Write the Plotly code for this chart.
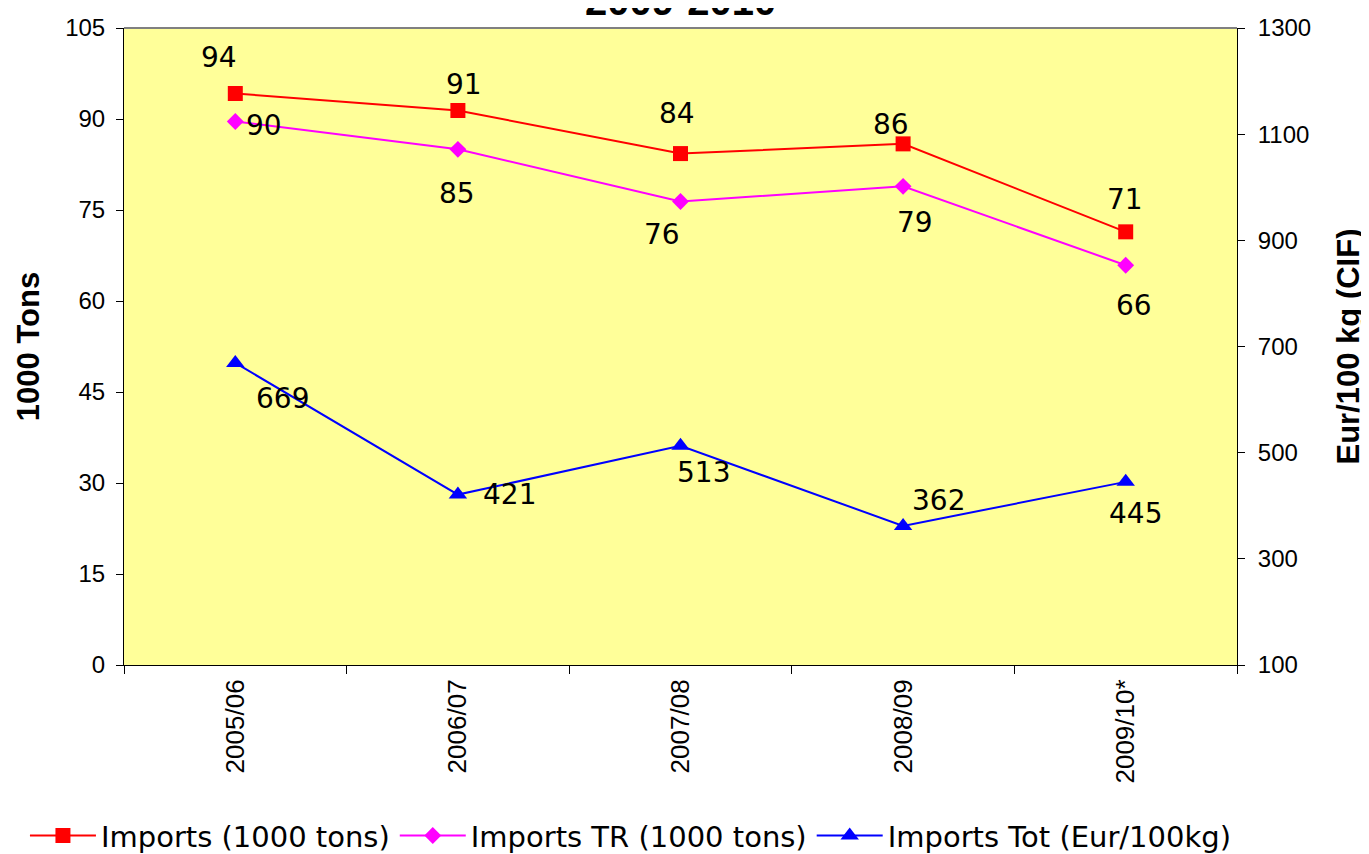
import plotly.graph_objects as go

seasons = ["2005/06", "2006/07", "2007/08", "2008/09", "2009/10*"]
imports_tons = [94.2, 91.4, 84.3, 85.9, 71.4]
imports_tr_tons = [89.6, 85.0, 76.4, 78.9, 65.9]
imports_price = [669, 421, 513, 362, 445]

left_ticks = [0, 15, 30, 45, 60, 75, 90, 105]
right_ticks = [100, 300, 500, 700, 900, 1100, 1300]

# label offsets in pixels (dx right, dy up)
off_red = [(-16, 36), (6, 26), (-4, 40), (-12, 19), (-1, 32)]
off_mag = [(29, -4), (-1, -44), (-19, -33), (12, -36), (8, -40)]
off_blue = [(47, -36), (52, 0), (23, -27), (35, 25), (10, -32)]

LABEL_FONT = dict(family="DejaVu Sans", size=28, color="black")
YTICK_FONT = dict(family="Liberation Sans", size=24, color="black")
XTICK_FONT = dict(family="Liberation Sans", size=26, color="black")
YTITLE_FONT = dict(family="Liberation Sans", size=31, color="black")

fig = go.Figure()
fig.add_trace(go.Scatter(
    x=seasons, y=imports_tons, name="Imports (1000 tons)", mode="lines+markers",
    line=dict(color="#FF0000", width=2),
    marker=dict(symbol="square", size=15, color="#FF0000"),
))
fig.add_trace(go.Scatter(
    x=seasons, y=imports_tr_tons, name="Imports TR (1000 tons)", mode="lines+markers",
    line=dict(color="#FF00FF", width=2),
    marker=dict(symbol="diamond", size=13, color="#FF00FF"),
))
fig.add_trace(go.Scatter(
    x=seasons, y=imports_price, name="Imports Tot (Eur/100kg)", mode="lines+markers",
    line=dict(color="#0000FF", width=2),
    marker=dict(symbol="triangle-up", size=16, color="#0000FF"),
    yaxis="y2",
))

annotations = []
for vals, offs, yref in [(imports_tons, off_red, "y"), (imports_tr_tons, off_mag, "y"),
                         (imports_price, off_blue, "y2")]:
    for s, v, (dx, dy) in zip(seasons, vals, offs):
        annotations.append(dict(
            x=s, y=v, xref="x", yref=yref, text=str(int(round(v))),
            showarrow=False, xshift=dx, yshift=dy, font=LABEL_FONT,
        ))

annotations.append(dict(
    text="<b>2009-2010</b>", x=0.5, xref="paper", y=1, yref="paper",
    xanchor="center", yanchor="bottom", yshift=3, showarrow=False,
    font=dict(family="Liberation Sans", size=40, color="black"),
))

fig.update_layout(
    width=1361, height=846,
    margin=dict(l=116, r=132, t=20, b=189, autoexpand=False),
    paper_bgcolor="white",
    plot_bgcolor="#FFFF99",
    xaxis=dict(
        type="category", range=[-0.5, 4.5], tickangle=-90,
        tickfont=XTICK_FONT, showline=True, linecolor="black", linewidth=1,
        ticks="outside", ticklen=8, tickcolor="black", tickson="boundaries",
        showgrid=False, zeroline=False, automargin=False, ticklabelstandoff=3,
    ),
    yaxis=dict(
        range=[0, 105], tickvals=left_ticks, tickfont=YTICK_FONT,
        showline=True, linecolor="black", linewidth=1,
        ticks="outside", ticklen=7, tickcolor="black",
        showgrid=False, zeroline=False, automargin=False, ticklabelstandoff=6,
        title=dict(text="<b>1000 Tons</b>", font=YTITLE_FONT, standoff=16),
    ),
    yaxis2=dict(
        range=[100, 1300], tickvals=right_ticks, tickfont=YTICK_FONT,
        overlaying="y", side="right",
        showline=True, linecolor="black", linewidth=1,
        ticks="outside", ticklen=7, tickcolor="black",
        showgrid=False, zeroline=False, automargin=False, ticklabelstandoff=8,
        title=dict(text="<b>Eur/100 kg (CIF)</b>", font=YTITLE_FONT, standoff=27),
    ),
    legend=dict(
        orientation="h", xref="paper", yref="paper",
        x=-0.089, y=-0.268, xanchor="left", yanchor="middle",
        font=dict(family="DejaVu Sans", size=29, color="black"),
        itemwidth=66, bgcolor="rgba(0,0,0,0)",
    ),
    annotations=annotations,
    shapes=[dict(type="line", xref="paper", yref="paper", x0=0, x1=1, y0=1, y1=1,
                 line=dict(color="#808080", width=2))],
    showlegend=True,
)

fig.write_html("out.html")
